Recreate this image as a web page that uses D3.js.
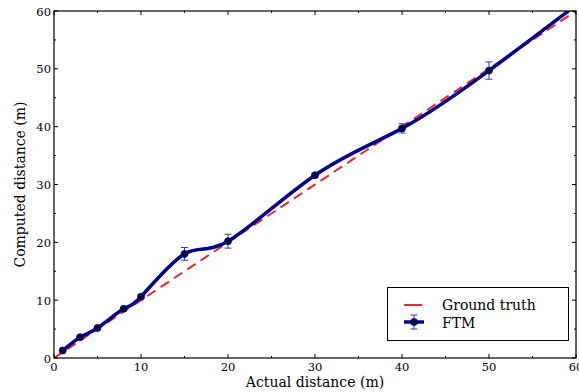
<!DOCTYPE html>
<html>
<head>
<meta charset="UTF-8">
<script src="https://d3js.org/d3.v7.min.js"></script>
<style>
  body { margin: 0; background: #fff; }
  svg text { font-family: "DejaVu Serif", serif; fill: #000; }
</style>
</head>
<body>
<svg width="579" height="392"></svg>
<script>
  // Valores
  const actual = [1, 3, 5, 8, 10, 15, 20, 30, 40, 50, 60];
  const computed = [1.3, 3.6, 5.2, 8.5, 10.6, 18.0, 20.2, 31.6, 39.7, 49.7, 61.0];
  const errors = [0.2, 0.2, 0.2, 0.2, 0.3, 1.1, 1.2, 0.3, 0.8, 1.5, 0.5];
  const truth = [0, 60];
  const majorTicks = [0, 10, 20, 30, 40, 50, 60];
  const minorTicks = [5, 15, 25, 35, 45, 55];

  const svg = d3.select("svg");
  const margin = {top: 11, right: 3, bottom: 34, left: 54};
  const width = 579, height = 392;

  const x = d3.scaleLinear().domain([0, 60]).range([margin.left, width - margin.right]);
  const y = d3.scaleLinear().domain([0, 60]).range([height - margin.bottom, margin.top]);

  svg.append("clipPath").attr("id", "clip")
     .append("rect")
     .attr("x", margin.left).attr("y", margin.top)
     .attr("width", width - margin.left - margin.right)
     .attr("height", height - margin.top - margin.bottom);

  const plot = svg.append("g").attr("clip-path", "url(#clip)");

  // Ground truth
  plot.append("path")
     .datum(truth)
     .attr("d", d3.line().x(d => x(d)).y(d => y(d)))
     .attr("fill", "none")
     .attr("stroke", "#e8262b")
     .attr("stroke-width", 2)
     .attr("stroke-dasharray", "10,6");

  // FTM curve
  const pts = actual.map((d, i) => ({x: d, y: computed[i], e: errors[i]}));
  plot.append("path")
     .datum(pts)
     .attr("d", d3.line().x(d => x(d.x)).y(d => y(d.y)).curve(d3.curveNatural))
     .attr("fill", "none")
     .attr("stroke", "#00008b")
     .attr("stroke-width", 3.5);

  // Barras de erro
  const eb = plot.selectAll("g.err").data(pts).enter().append("g")
     .attr("stroke", "#3a3aa8").attr("stroke-width", 1);
  eb.append("line")
     .attr("x1", d => x(d.x)).attr("x2", d => x(d.x))
     .attr("y1", d => y(d.y - d.e)).attr("y2", d => y(d.y + d.e));
  eb.append("line")
     .attr("x1", d => x(d.x) - 3.5).attr("x2", d => x(d.x) + 3.5)
     .attr("y1", d => y(d.y - d.e)).attr("y2", d => y(d.y - d.e));
  eb.append("line")
     .attr("x1", d => x(d.x) - 3.5).attr("x2", d => x(d.x) + 3.5)
     .attr("y1", d => y(d.y + d.e)).attr("y2", d => y(d.y + d.e));

  plot.selectAll("circle").data(pts).enter().append("circle")
     .attr("cx", d => x(d.x)).attr("cy", d => y(d.y))
     .attr("r", 3.5)
     .attr("fill", "#0a0a3a")
     .attr("stroke", "#00008b").attr("stroke-width", 0.8);

  // Eixos (ticks para dentro)
  const x0 = margin.left, x1 = width - margin.right;
  const y0 = height - margin.bottom, y1 = margin.top;
  const axes = svg.append("g").attr("stroke", "#000").attr("stroke-width", 1);
  majorTicks.forEach(t => {
    axes.append("line").attr("x1", x(t)).attr("x2", x(t)).attr("y1", y0).attr("y2", y0 - 4);
    axes.append("line").attr("x1", x(t)).attr("x2", x(t)).attr("y1", y1).attr("y2", y1 + 4);
    axes.append("line").attr("y1", y(t)).attr("y2", y(t)).attr("x1", x0).attr("x2", x0 + 4);
    axes.append("line").attr("y1", y(t)).attr("y2", y(t)).attr("x1", x1).attr("x2", x1 - 4);
  });
  minorTicks.forEach(t => {
    axes.append("line").attr("x1", x(t)).attr("x2", x(t)).attr("y1", y0).attr("y2", y0 - 2);
    axes.append("line").attr("x1", x(t)).attr("x2", x(t)).attr("y1", y1).attr("y2", y1 + 2);
    axes.append("line").attr("y1", y(t)).attr("y2", y(t)).attr("x1", x0).attr("x2", x0 + 2);
    axes.append("line").attr("y1", y(t)).attr("y2", y(t)).attr("x1", x1).attr("x2", x1 - 2);
  });
  svg.append("rect")
     .attr("x", x0).attr("y", y1).attr("width", x1 - x0).attr("height", y0 - y1)
     .attr("fill", "none").attr("stroke", "#000").attr("stroke-width", 1.2);

  svg.selectAll("text.xt").data(majorTicks).enter().append("text")
     .attr("x", d => x(d)).attr("y", y0 + 13)
     .attr("text-anchor", "middle").attr("font-size", 11.5)
     .text(d => d);
  svg.selectAll("text.yt").data(majorTicks).enter().append("text")
     .attr("x", x0 - 3).attr("y", d => y(d) + 4.5)
     .attr("text-anchor", "end").attr("font-size", 11.5)
     .text(d => d);

  svg.append("text")
     .attr("x", (x0 + x1) / 2).attr("y", 387)
     .attr("text-anchor", "middle").attr("font-size", 14)
     .text("Actual distance (m)");
  svg.append("text")
     .attr("transform", `translate(25,${(y0 + y1) / 2}) rotate(-90)`)
     .attr("text-anchor", "middle").attr("font-size", 14)
     .text("Computed distance (m)");

  // Legenda
  const lg = svg.append("g");
  lg.append("rect")
     .attr("x", 387.5).attr("y", 287.5).attr("width", 181).attr("height", 53)
     .attr("fill", "#fff").attr("stroke", "#000").attr("stroke-width", 1);
  lg.append("line")
     .attr("x1", 404).attr("x2", 422).attr("y1", 305).attr("y2", 305)
     .attr("stroke", "#e8262b").attr("stroke-width", 2);
  lg.append("line")
     .attr("x1", 404).attr("x2", 424).attr("y1", 322).attr("y2", 322)
     .attr("stroke", "#00008b").attr("stroke-width", 3.5);
  lg.append("line")
     .attr("x1", 414).attr("x2", 414).attr("y1", 315).attr("y2", 329)
     .attr("stroke", "#3a3aa8");
  lg.append("line").attr("x1", 410.5).attr("x2", 417.5).attr("y1", 315).attr("y2", 315).attr("stroke", "#3a3aa8");
  lg.append("line").attr("x1", 410.5).attr("x2", 417.5).attr("y1", 329).attr("y2", 329).attr("stroke", "#3a3aa8");
  lg.append("circle").attr("cx", 414).attr("cy", 322).attr("r", 3.5)
     .attr("fill", "#0a0a3a").attr("stroke", "#00008b").attr("stroke-width", 0.8);
  lg.append("text").attr("x", 442).attr("y", 310).attr("font-size", 14).text("Ground truth");
  lg.append("text").attr("x", 442).attr("y", 328).attr("font-size", 14).text("FTM");
</script>
</body>
</html>
